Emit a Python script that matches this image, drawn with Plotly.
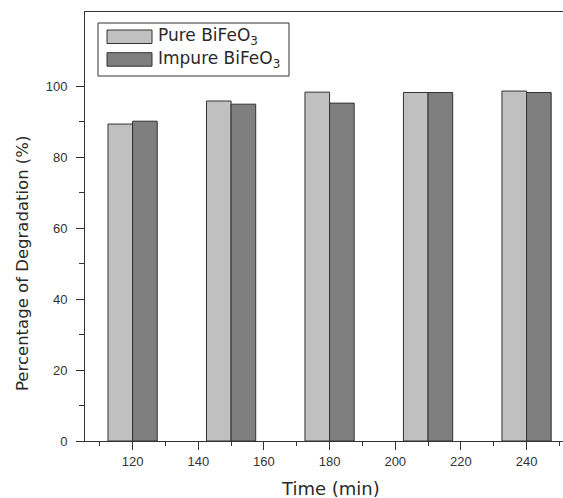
import plotly.graph_objects as go

times = [120, 150, 180, 210, 240]
pure = [89.4, 95.9, 98.4, 98.3, 98.7]
impure = [90.2, 95.0, 95.3, 98.3, 98.3]
series_names = ["Pure BiFeO<sub>3</sub>", "Impure BiFeO<sub>3</sub>"]
colors = ["#c0c0c0", "#7f7f7f"]
y_major = [0, 20, 40, 60, 80, 100]
y_minor = [10, 30, 50, 70, 90]
x_title = "Time (min)"
y_title = "Percentage of Degradation (%)"

W, H = 563, 498
L, R, T, B = 85, 0, 12, 57
pw, ph = W - L - R, H - T - B

def px(x):
    return (x - L) / pw

def py(y):
    return (H - B - y) / ph

FONT = "Liberation Sans, Arial, sans-serif"
WIDE = "DejaVu Sans, sans-serif"

fig = go.Figure()
for name, vals, c in zip(series_names, [pure, impure], colors):
    fig.add_trace(go.Bar(x=times, y=vals, name=name, marker=dict(color=c, line=dict(color="#333333", width=1)),
                         showlegend=False))

fig.update_layout(
    width=W, height=H,
    margin=dict(l=L, r=R, t=T, b=B),
    barmode="group", bargap=0.5, bargroupgap=0,
    plot_bgcolor="white", paper_bgcolor="white",
    font=dict(family=FONT, color="#333333"),
)
fig.update_xaxes(
    range=[105.5, 251.1], tick0=120, dtick=20, ticks="outside", ticklen=8, tickwidth=1, tickcolor="#333",
    showline=True, linecolor="#333", linewidth=1, mirror=True, showgrid=False, zeroline=False,
    tickfont=dict(size=13, color="#333"),
    minor=dict(dtick=10, tick0=110, ticks="outside", ticklen=4, tickcolor="#333", showgrid=False),
)
fig.update_yaxes(
    range=[0, 121], tickmode="array", tickvals=y_major, ticks="outside", ticklen=8, tickwidth=1, tickcolor="#333",
    showline=True, linecolor="#333", linewidth=1, showgrid=False, zeroline=False,
    tickfont=dict(size=13, color="#333"), ticklabelstandoff=6,
    minor=dict(tickmode="array", tickvals=y_minor, ticks="outside", ticklen=5, tickcolor="#333", showgrid=False),
)

# axis titles
fig.add_annotation(xref="paper", yref="paper", x=px(330), y=py(488), text=x_title, showarrow=False,
                   xanchor="center", yanchor="middle", font=dict(size=18, color="#2a2a2a", family=WIDE))
fig.add_annotation(xref="paper", yref="paper", x=px(22), y=py(264), text=y_title, showarrow=False, textangle=-90,
                   xanchor="center", yanchor="middle", font=dict(size=16.5, color="#2a2a2a", family=WIDE))

# legend box
fig.add_shape(type="rect", xref="paper", yref="paper", x0=px(98), x1=px(289), y0=py(76), y1=py(23),
              line=dict(color="#333", width=1), fillcolor="white")
for i, (name, c) in enumerate(zip(series_names, colors)):
    top = 30 + i * 22.7
    fig.add_shape(type="rect", xref="paper", yref="paper", x0=px(107), x1=px(152), y0=py(top + 13.5), y1=py(top),
                  line=dict(color="#333", width=1), fillcolor=c)
    fig.add_annotation(xref="paper", yref="paper", x=px(156), y=py(top + 6.5), text=name, showarrow=False,
                       xanchor="left", yanchor="middle", font=dict(size=17, color="#2a2a2a", family=WIDE))

fig.write_html("out.html")
